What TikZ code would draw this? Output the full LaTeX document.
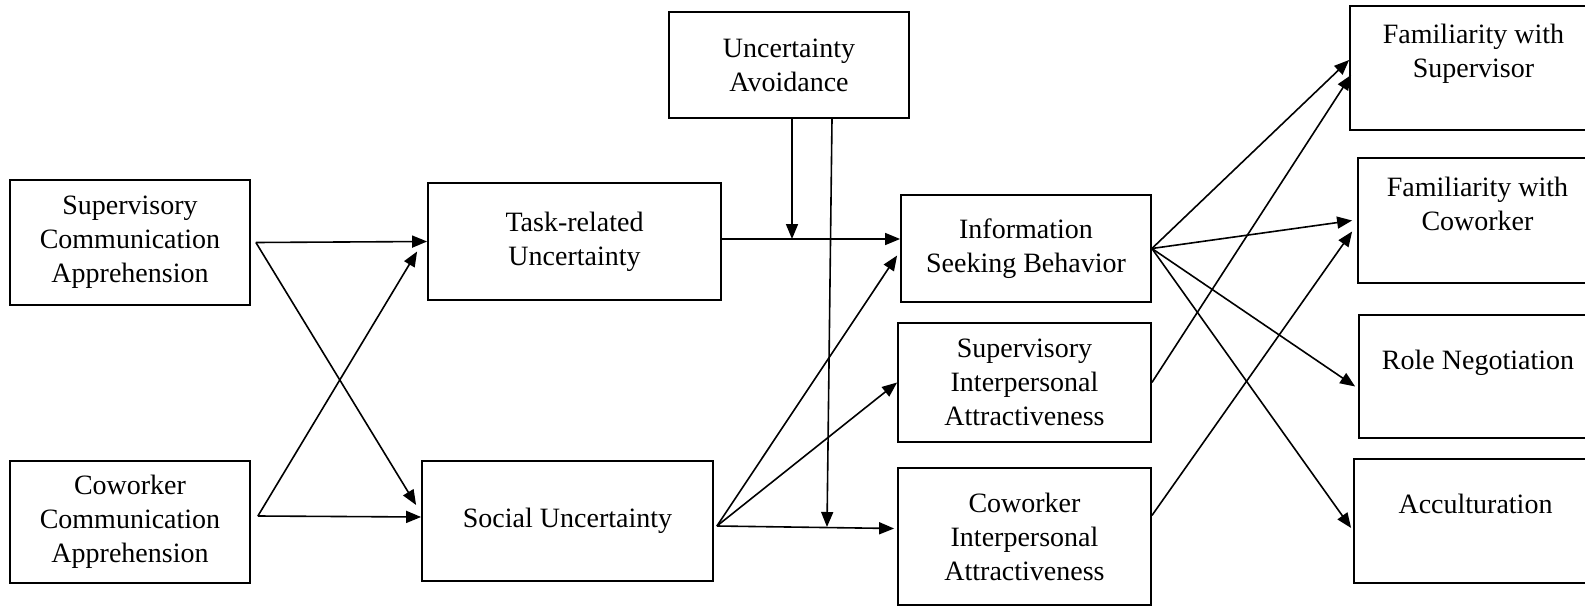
\documentclass[tikz,border=0pt]{standalone}
\usepackage{fontspec}
\setmainfont{Liberation Serif}
\usetikzlibrary{arrows.meta}
\begin{document}
\begin{tikzpicture}[x=1pt,y=-1pt,
    box/.style={draw, line width=1.8pt, align=center, inner sep=0pt,
      font=\fontsize{28}{34}\selectfont},
    arr/.style={line width=1.6pt, -{Triangle[length=15pt,width=12pt]}}]
  \useasboundingbox (0,0) rectangle (1585,607);

  % left column
  \node[box, minimum width=240, minimum height=125] (sca) at (130,242.5)
    {Supervisory\\Communication\\Apprehension};
  \node[box, minimum width=240, minimum height=122] (cca) at (130,522)
    {Coworker\\Communication\\Apprehension};

  % uncertainty
  \node[box, minimum width=293, minimum height=117] (task) at (574.5,241.5)
    {Task-related\\Uncertainty};
  \node[box, minimum width=291, minimum height=120] (social) at (567.5,521)
    {Social Uncertainty};
  \node[box, minimum width=240, minimum height=106] (ua) at (789,65)
    {Uncertainty\\Avoidance};

  % middle column
  \node[box, minimum width=250, minimum height=107] (isb) at (1026,248.5)
    {Information\\Seeking Behavior};
  \node[box, minimum width=253, minimum height=119] (sia) at (1024.5,382.5)
    {Supervisory\\Interpersonal\\Attractiveness};
  \node[box, minimum width=253, minimum height=137] (cia) at (1024.5,536.5)
    {Coworker\\Interpersonal\\Attractiveness};

  % outcomes (cut off at the right edge)
  \node[box, minimum width=247, minimum height=124] (fsup) at (1473.5,68)
    {Familiarity with\\Supervisor\\\mbox{}};
  \node[box, minimum width=239, minimum height=125] (fcow) at (1477.5,220.5)
    {Familiarity with\\Coworker\\\mbox{}};
  \node[box, minimum width=238, minimum height=123] (role) at (1478,376.5)
    {Role Negotiation\\\mbox{}};
  \node[box, minimum width=243, minimum height=124] (accu) at (1475.5,521)
    {Acculturation\\\mbox{}};

  \coordinate (mod1) at (792,239);
  \coordinate (mod2) at (827,527);

  \draw[arr] ([xshift=5pt]sca.east) -- (task.west);
  \draw[arr] ([xshift=5pt]sca.east) -- ([xshift=-5pt,yshift=16pt]social.west);
  \draw[arr] ([xshift=7pt,yshift=6pt]cca.east) -- ([xshift=-10pt,yshift=-10pt]task.west);
  \draw[arr] ([xshift=7pt,yshift=6pt]cca.east) -- ([yshift=4pt]social.west);

  \draw[arr] (task.east |- mod1) -- (isb.west |- mod1);
  \draw[arr] ([xshift=3pt]ua.south) -- (mod1);
  \draw[arr] ([xshift=43pt]ua.south) -- (mod2);

  \draw[arr] ([xshift=3pt,yshift=-5pt]social.east) -- ([xshift=-3pt,yshift=-7pt]isb.west);
  \draw[arr] ([xshift=3pt,yshift=-5pt]social.east) -- (sia.west);
  \draw[arr] ([xshift=3pt,yshift=-5pt]social.east) -- ([xshift=-3pt,yshift=8pt]cia.west);

  \draw[arr] (isb.east) -- ([yshift=8pt]fsup.west);
  \draw[arr] (isb.east) -- ([xshift=-5pt]fcow.west);
  \draw[arr] (isb.east) -- ([xshift=-3pt,yshift=-10pt]role.west);
  \draw[arr] (isb.east) -- ([xshift=-2pt,yshift=-7pt]accu.west);
  \draw[arr] (sia.east) -- ([xshift=2pt,yshift=-7pt]fsup.west);
  \draw[arr] ([yshift=21pt]cia.east) -- ([xshift=-5pt,yshift=-11pt]fcow.west);
\end{tikzpicture}
\end{document}
